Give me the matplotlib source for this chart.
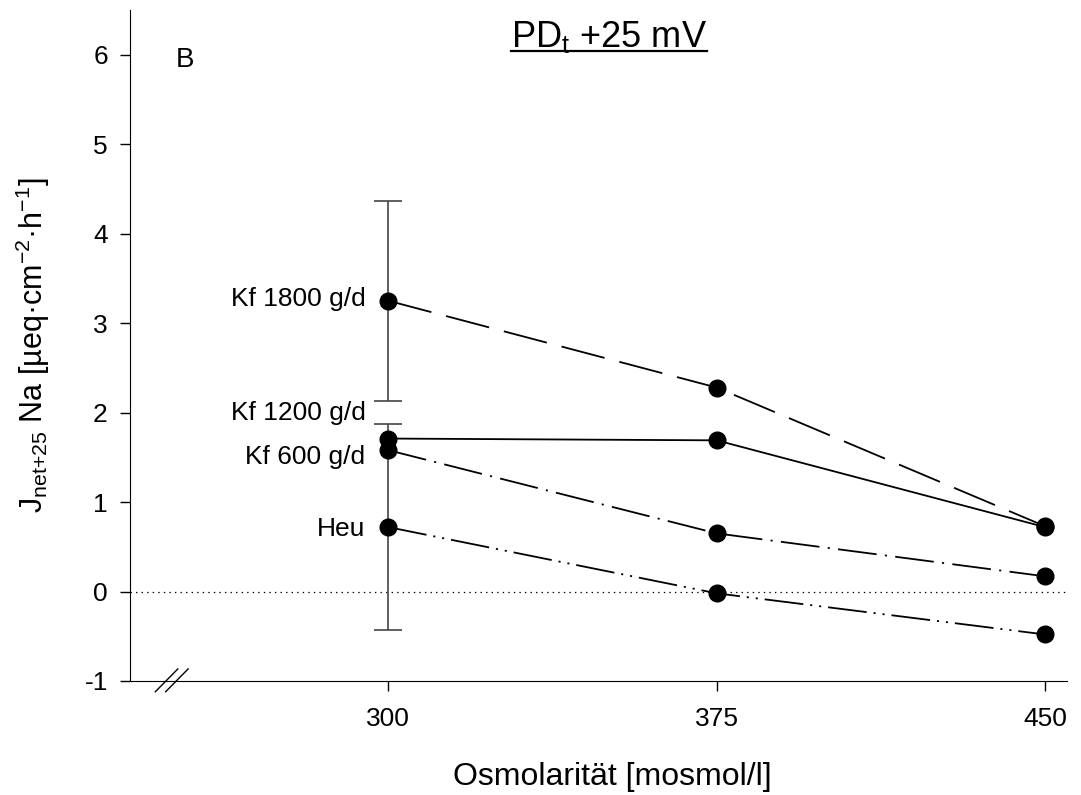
import numpy as np
import matplotlib
matplotlib.use('Agg')
import matplotlib.pyplot as plt
from matplotlib.lines import Line2D

plt.rcParams['font.family'] = ['Liberation Sans', 'DejaVu Sans']
plt.rcParams['lines.scale_dashes'] = False
plt.rcParams['axes.unicode_minus'] = False
plt.rcParams['mathtext.default'] = 'regular'

osm = [300, 375, 450]
kf1800 = [3.25, 2.28, 0.73]
kf1200 = [1.71, 1.69, 0.72]
kf600 = [1.58, 0.65, 0.17]
heu = [0.72, -0.02, -0.48]
err1800 = 1.12
errheu = 1.15
labels = ['Kf 1800 g/d', 'Kf 1200 g/d', 'Kf 600 g/d', 'Heu']
label_y = [3.27, 2.0, 1.50, 0.70]

fig = plt.figure(figsize=(10.81, 7.95), dpi=100)
ax = fig.add_axes([0.1203, 0.1434, 0.8667, 0.844])

ax.axhline(0, color='k', lw=0.9, ls=(0, (1, 3)))

# error bars first so points sit on top
ax.errorbar([osm[0]], [kf1800[0]], yerr=err1800, fmt='none', ecolor='#444444',
            elinewidth=1.2, capsize=10, capthick=1.2)
ax.errorbar([osm[0]], [heu[0]], yerr=errheu, fmt='none', ecolor='#444444',
            elinewidth=1.2, capsize=10, capthick=1.2)

mk = dict(marker='o', ms=12, mfc='k', mec='k', color='k', lw=1.3)
ax.plot(osm, kf1800, ls=(0, (32, 11)), **mk)
ax.plot(osm, kf1200, ls='-', **mk)
ax.plot(osm, kf600, ls=(0, (28, 6, 1.5, 6)), **mk)
ax.plot(osm, heu, ls=(0, (28, 5, 1.5, 5, 1.5, 5)), **mk)

for lab, yy in zip(labels, label_y):
    ax.text(294.8, yy, lab, ha='right', va='center', fontsize=19)

ax.set_xlim(241, 455)
ax.set_ylim(-1, 6.5)
ax.set_xticks(osm)
ax.set_yticks(range(-1, 7))
ax.tick_params(labelsize=19, length=7, width=1, direction='out')
ax.tick_params(axis='y', pad=9)
ax.tick_params(axis='x', pad=12)
ax.spines['top'].set_visible(False)
ax.spines['right'].set_visible(False)

ax.set_xlabel('Osmolarität [mosmol/l]', fontsize=23)
ax.xaxis.set_label_coords(0.515, -0.12)
ax.set_ylabel(r'J$_{net{+}25}$ Na [µeq·cm$^{-2}$·h$^{-1}$]', fontsize=22)
ax.yaxis.set_label_coords(-0.083, 0.5)

ax.text(0.049, 0.915, 'B', transform=ax.transAxes, fontsize=20, va='baseline')
title = ax.text(0.511, 0.945, r'PD$_{t}$ +25 mV', transform=ax.transAxes,
                fontsize=26, ha='center', va='baseline')

# axis break marks
for x0 in (0.027, 0.038):
    ax.plot([x0, x0 + 0.024], [-0.016, 0.018], transform=ax.transAxes,
            color='k', lw=1, clip_on=False)

# underline the title
fig.canvas.draw()
bb = title.get_window_extent().transformed(fig.transFigure.inverted())
uy = 1 - 51 / 795
fig.add_artist(Line2D([bb.x0, bb.x1], [uy, uy],
                      transform=fig.transFigure, color='k', lw=1.6))

fig.savefig('out.png', dpi=100)
